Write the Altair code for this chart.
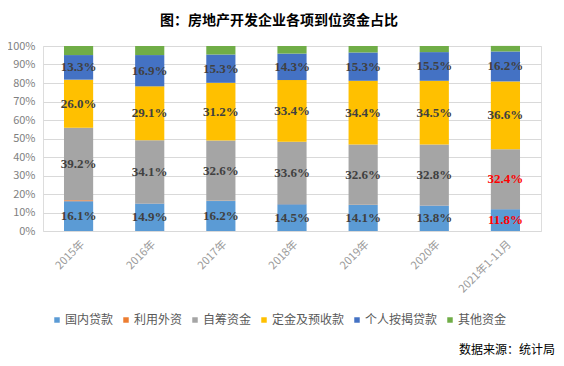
import altair as alt
import pandas as pd

years = ["2015年", "2016年", "2017年", "2018年", "2019年", "2020年", "2021年1-11月"]
series = ["国内贷款", "利用外资", "自筹资金", "定金及预收款", "个人按揭贷款", "其他资金"]
colors = ["#5B9BD5", "#ED7D31", "#A5A5A5", "#FFC000", "#4472C4", "#70AD47"]

domestic = [16.1, 14.9, 16.2, 14.5, 14.1, 13.8, 11.8]
foreign = [0.5, 0.1, 0.1, 0.1, 0.1, 0.1, 0.05]
selfraised = [39.2, 34.1, 32.6, 33.6, 32.6, 32.8, 32.4]
deposits = [26.0, 29.1, 31.2, 33.4, 34.4, 34.5, 36.6]
mortgage = [13.3, 16.9, 15.3, 14.3, 15.3, 15.5, 16.2]
other = [4.9, 4.9, 4.6, 4.1, 3.5, 3.3, 3.0]

labeled_series = ["国内贷款", "自筹资金", "定金及预收款", "个人按揭贷款"]
red_year = "2021年1-11月"
red_series = ["国内贷款", "自筹资金"]

title_text = "图：房地产开发企业各项到位资金占比"
source_text = "数据来源：统计局"

values_by_series = [domestic, foreign, selfraised, deposits, mortgage, other]
rows = []
for si, (name, vals) in enumerate(zip(series, values_by_series)):
    for yr, v in zip(years, vals):
        rows.append({
            "year": yr,
            "series": name,
            "idx": si,
            "value": v / 100.0,
            "label": f"{v:.1f}%",
            "show": name in labeled_series,
            "red": (yr == red_year) and (name in red_series),
        })
df = pd.DataFrame(rows)

CN = "Noto Sans CJK SC"

x_axis = alt.Axis(title=None, labelAngle=-45, labelFontSize=11, labelColor="#9A9A9A",
                  labelFont=CN, ticks=False, domain=False, labelPadding=7, grid=False)
x_scale = alt.Scale(paddingInner=0.59, paddingOuter=0.295)
y_axis = alt.Axis(title=None, format=".0%", values=[i / 10 for i in range(11)],
                  labelFontSize=11, labelColor="#7F7F7F", labelFont=CN,
                  labelOverlap=False, ticks=False, domain=False, labelPadding=8,
                  gridColor="#D9D9D9", gridWidth=1)
y_scale = alt.Scale(domain=[0, 1])

bars = alt.Chart(df).mark_bar().encode(
    x=alt.X("year:N", sort=years, scale=x_scale, axis=x_axis),
    y=alt.Y("value:Q", stack="zero", scale=y_scale, axis=y_axis),
    color=alt.Color("series:N", scale=alt.Scale(domain=series, range=colors),
                    legend=alt.Legend(title=None, orient="none", direction="horizontal",
                                      legendX=8, legendY=268, symbolType="square",
                                      symbolSize=30, symbolStrokeWidth=0,
                                      labelFontSize=12, labelColor="#595959", labelFont=CN,
                                      labelOffset=2, columnPadding=6)),
    order=alt.Order("idx:Q", sort="ascending"),
)

labels = alt.Chart(df).transform_stack(
    stack="value", groupby=["year"], as_=["y0", "y1"],
    sort=[alt.SortField("idx", order="ascending")],
).transform_calculate(
    mid="(datum.y0 + datum.y1) / 2"
).transform_filter(
    "datum.show"
).mark_text(font="Liberation Serif", fontWeight="bold", fontSize=13, baseline="middle").encode(
    x=alt.X("year:N", sort=years, scale=x_scale, axis=x_axis),
    y=alt.Y("mid:Q", scale=y_scale, axis=y_axis),
    text="label:N",
    color=alt.condition("datum.red", alt.value("#FF0000"), alt.value("#404040")),
)

source = alt.Chart(pd.DataFrame({"t": [source_text]})).mark_text(
    align="right", baseline="middle", fontSize=12, font=CN, color="#000000"
).encode(text="t:N", x=alt.value(512), y=alt.value(304))

chart = alt.layer(bars, labels, source).properties(
    width=498, height=185,
    title=alt.TitleParams(title_text, anchor="middle", fontSize=14, font=CN,
                          fontWeight="bold", color="#000000", dx=-13, offset=12),
    autosize=alt.AutoSizeParams(type="none"),
    padding={"left": 35, "top": 38, "right": 15, "bottom": 125},
).configure_view(stroke=None).configure(background="#FFFFFF")

chart.save("out.html", embed_options={"renderer": "svg", "actions": False})
